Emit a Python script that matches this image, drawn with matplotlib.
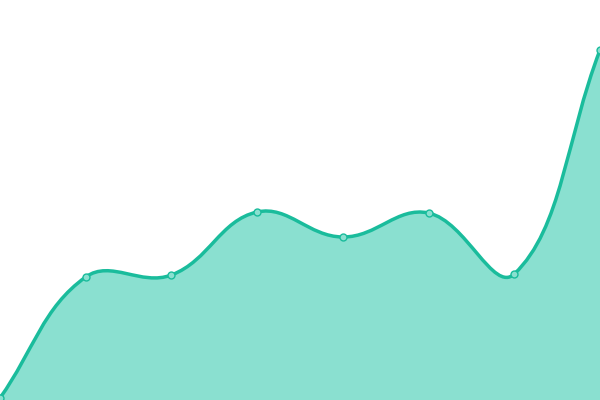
import numpy as np
import matplotlib.pyplot as plt
from matplotlib.path import Path
from matplotlib.patches import PathPatch

# series
days = [0, 1, 2, 3, 4, 5, 6, 7]
values = [2, 123, 125, 188, 163, 187, 126, 350]

line_col = '#1abc9c'
fill_col = '#8ae0d0'

fig = plt.figure(figsize=(6, 4), dpi=100)
ax = fig.add_axes([0, 0, 1, 1])
ax.set_xlim(0, 7)
ax.set_ylim(0, 400)
ax.axis('off')

# spline through the points (tension 0.4, split by segment length in pixels)
x = np.array(days, dtype=float)
y = np.array(values, dtype=float)
sx = 600 / 7.0  # pixel scale of x, y is already 1 px per unit
t = 0.4
n = len(x)
cin = [None] * n
cout = [None] * n
for i in range(n):
    ip = max(i - 1, 0)
    inx = min(i + 1, n - 1)
    d01 = np.hypot((x[i] - x[ip]) * sx, y[i] - y[ip])
    d12 = np.hypot((x[inx] - x[i]) * sx, y[inx] - y[i])
    s01 = d01 / (d01 + d12)
    s12 = d12 / (d01 + d12)
    vx, vy = x[inx] - x[ip], y[inx] - y[ip]
    cin[i] = (x[i] - t * s01 * vx, y[i] - t * s01 * vy)
    cout[i] = (x[i] + t * s12 * vx, y[i] + t * s12 * vy)

verts = [(x[0], y[0])]
codes = [Path.MOVETO]
for i in range(n - 1):
    verts += [cout[i], cin[i + 1], (x[i + 1], y[i + 1])]
    codes += [Path.CURVE4] * 3

line_path = Path(verts, codes)
fill_path = Path(verts + [(x[-1], 0), (x[0], 0), (x[0], y[0])],
                 codes + [Path.LINETO, Path.LINETO, Path.CLOSEPOLY])
ax.add_patch(PathPatch(fill_path, facecolor=fill_col, edgecolor='none'))
ax.add_patch(PathPatch(line_path, facecolor='none', edgecolor=line_col, lw=2.5))
ax.plot(days, values, 'o', ms=5, mfc=fill_col, mec=line_col, mew=1, clip_on=False)

fig.savefig('out.png')
